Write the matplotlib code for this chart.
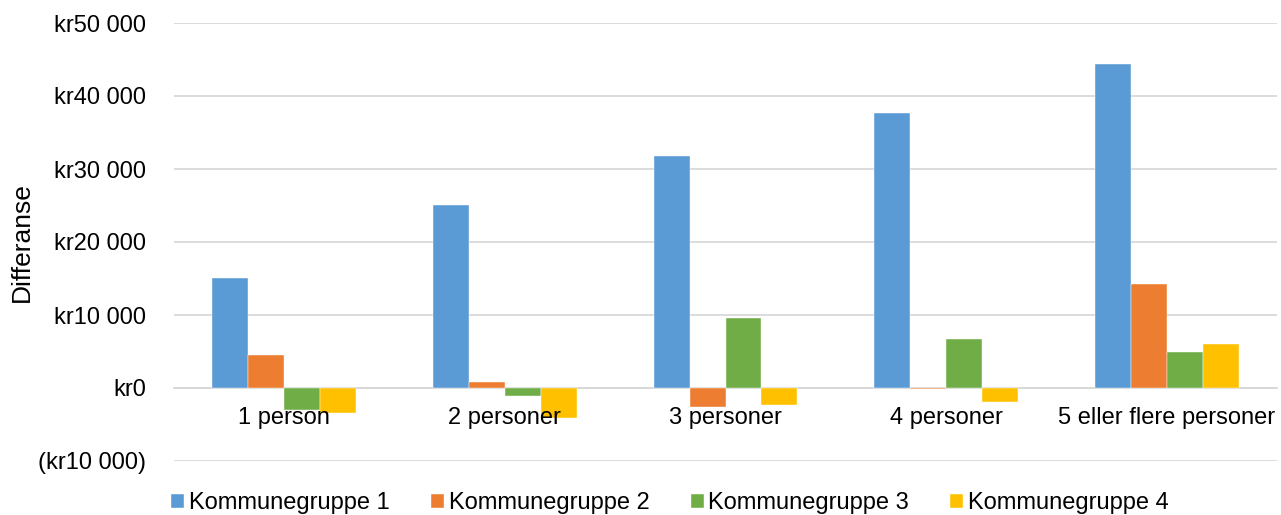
import matplotlib
matplotlib.use('Agg')
import matplotlib.pyplot as plt
import numpy as np
from matplotlib.ticker import FuncFormatter, MultipleLocator

plt.rcParams['font.family'] = ['Liberation Sans', 'DejaVu Sans']

categories = ['1 person', '2 personer', '3 personer', '4 personer', '5 eller flere personer']
series_names = ['Kommunegruppe 1', 'Kommunegruppe 2', 'Kommunegruppe 3', 'Kommunegruppe 4']
gruppe1 = [15030, 25070, 31780, 37630, 44380]
gruppe2 = [4520, 870, -2560, -180, 14250]
gruppe3 = [-3010, -1050, 9540, 6670, 4980]
gruppe4 = [-3380, -4160, -2330, -1870, 6030]
colors = ['#5B9BD5', '#ED7D31', '#70AD47', '#FFC000']


def kr_format(value, pos):
    amount = f'{abs(int(round(value))):,}'.replace(',', ' ')
    if value < 0:
        return f'(kr{amount})'
    return f'kr{amount}'


fig = plt.figure(figsize=(12.81, 5.15), dpi=100)
ax = fig.add_axes([174 / 1281, 1 - 461 / 515, 1103 / 1281, 438 / 515])

x = np.arange(len(categories))
width = 0.163
all_series = [gruppe1, gruppe2, gruppe3, gruppe4]
for i, (name, values) in enumerate(zip(series_names, all_series)):
    ax.bar(x + (i - 1.5) * width, values, width, color=colors[i], label=name,
           edgecolor='white', linewidth=0.3, zorder=2)

ax.set_xlim(-0.5, len(categories) - 0.5)
ax.set_ylim(-10000, 50000)
ax.yaxis.set_major_locator(MultipleLocator(10000))
ax.yaxis.set_major_formatter(FuncFormatter(kr_format))
ax.grid(axis='y', color='#D9D9D9', linewidth=1.3)
ax.yaxis.set_zorder(0.5)
ax.xaxis.set_zorder(5)

for side in ['top', 'right', 'left']:
    ax.spines[side].set_visible(False)
ax.spines['bottom'].set_position(('data', 0))
ax.spines['bottom'].set_color('#D9D9D9')
ax.spines['bottom'].set_linewidth(1.3)
ax.spines['bottom'].set_zorder(0.5)

ax.set_xticks(x)
ax.set_xticklabels(categories)
ax.tick_params(axis='x', length=0, pad=14, labelsize=17)
ax.tick_params(axis='y', length=0, pad=20, labelsize=17)
ax.set_ylabel('Differanse', fontsize=19, va='center')
ax.yaxis.set_label_coords((22 - 174) / 1103, 0.5)

fig.legend(loc='center', bbox_to_anchor=(670 / 1281, 1 - 503 / 515), ncol=4,
           frameon=False, fontsize=17, handlelength=0.55, handleheight=0.55,
           handletextpad=0.2, columnspacing=1.75)

fig.savefig('out.png', dpi=100)
